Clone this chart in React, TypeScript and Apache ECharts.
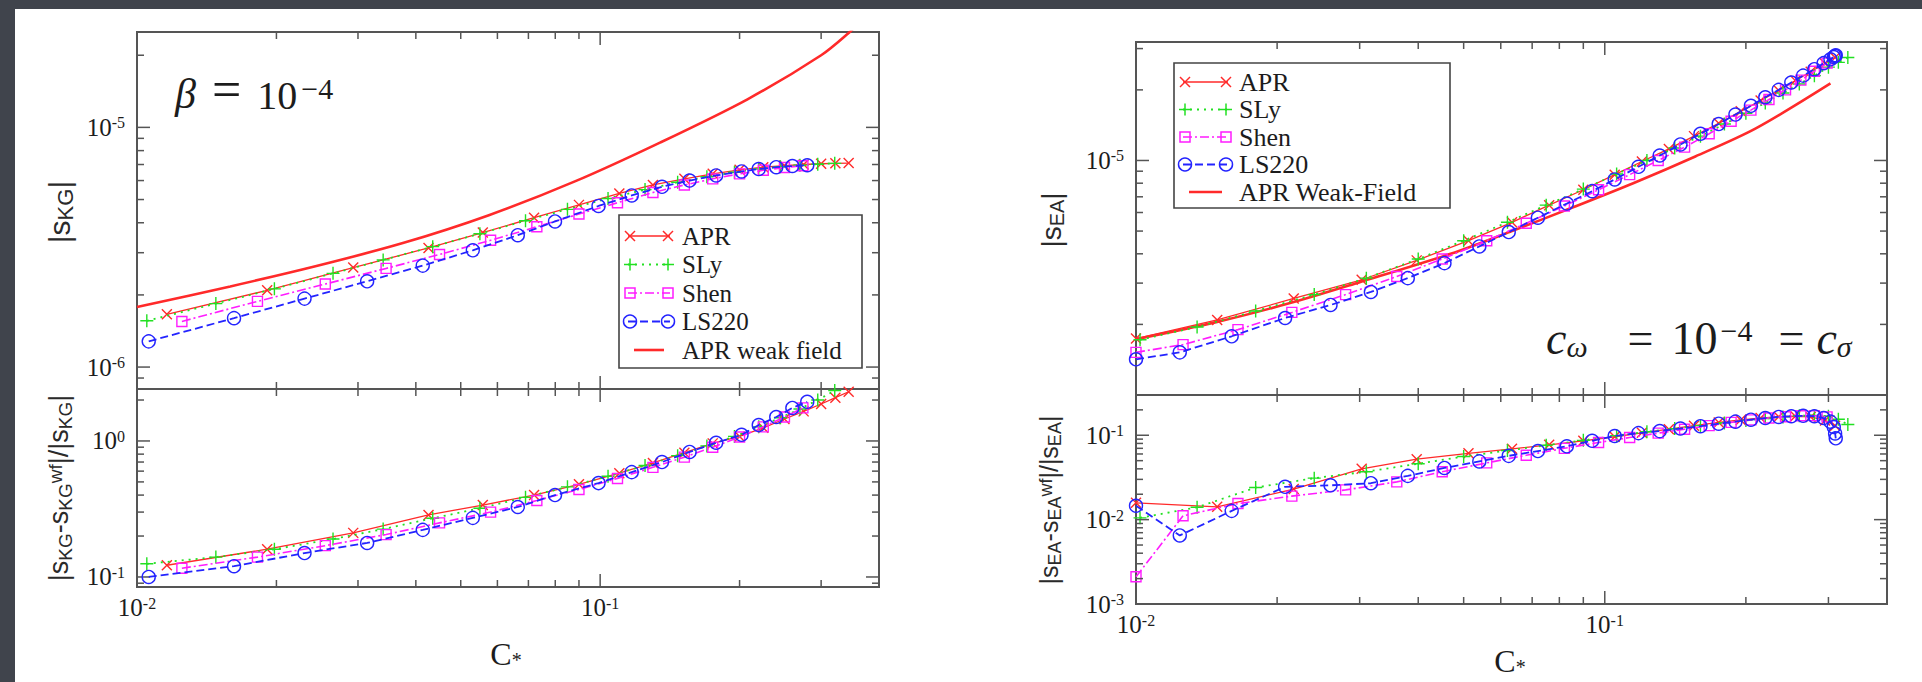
import React, { useEffect, useRef } from 'react';
import * as echarts from 'echarts';

// ---------------- axis ranges / ticks ----------------
const X_RANGE = [0.01, 0.4];
const Y_RANGE_KG_TOP = [8.1e-7, 2.5e-5];
const Y_RANGE_KG_BOT = [0.0844, 2.41];
const Y_RANGE_EA_TOP = [1e-6, 3.2e-5];
const Y_RANGE_EA_BOT = [1e-3, 0.3];

const X_LABEL_EXP = [-2, -1];
const Y_LABEL_EXP_KG_TOP = [-6, -5];
const Y_LABEL_EXP_KG_BOT = [-1, 0];
const Y_LABEL_EXP_EA_TOP = [-5];
const Y_LABEL_EXP_EA_BOT = [-3, -2, -1];

const X_TICKS_MAJOR = [0.1];
const X_TICKS_MINOR = [0.02, 0.03, 0.04, 0.05, 0.06, 0.07, 0.08, 0.09, 0.2, 0.3];
const Y_TICKS_KG_TOP_MAJOR = [1e-6, 1e-5];
const Y_TICKS_KG_TOP_MINOR = [9e-7, 2e-6, 3e-6, 4e-6, 5e-6, 6e-6, 7e-6, 8e-6, 9e-6, 2e-5];
const Y_TICKS_KG_BOT_MAJOR = [0.1, 1];
const Y_TICKS_KG_BOT_MINOR = [0.09, 0.2, 0.3, 0.4, 0.5, 0.6, 0.7, 0.8, 0.9, 2];
const Y_TICKS_EA_TOP_MAJOR = [1e-5];
const Y_TICKS_EA_TOP_MINOR = [2e-6, 3e-6, 4e-6, 5e-6, 6e-6, 7e-6, 8e-6, 9e-6, 2e-5, 3e-5];
const Y_TICKS_EA_BOT_MAJOR = [0.01, 0.1];
const Y_TICKS_EA_BOT_MINOR = [0.002, 0.003, 0.004, 0.005, 0.006, 0.007, 0.008, 0.009, 0.02, 0.03, 0.04, 0.05, 0.06, 0.07, 0.08, 0.09, 0.2];

const EOS_NAMES = ['APR', 'SLy', 'Shen', 'LS220'];
const LEGEND_KG = ['APR', 'SLy', 'Shen', 'LS220', 'APR weak field'];
const LEGEND_EA = ['APR', 'SLy', 'Shen', 'LS220', 'APR Weak-Field'];

// ---------------- left panel (KG, beta = 1e-4) ----------------
const KG_C_APR = [0.0116, 0.0191, 0.0293, 0.0426, 0.0558, 0.072, 0.09, 0.11, 0.13, 0.152, 0.175, 0.2, 0.225, 0.25, 0.275, 0.3, 0.322, 0.344];
const KG_TOP_APR = [1.66e-6, 2.09e-6, 2.6e-6, 3.14e-6, 3.64e-6, 4.2e-6, 4.75e-6, 5.3e-6, 5.75e-6, 6.1e-6, 6.4e-6, 6.65e-6, 6.82e-6, 6.93e-6, 7.0e-6, 7.05e-6, 7.08e-6, 7.1e-6];
const KG_BOT_APR = [0.122, 0.16, 0.211, 0.286, 0.338, 0.4, 0.48, 0.58, 0.69, 0.82, 0.96, 1.08, 1.25, 1.45, 1.65, 1.87, 2.08, 2.3];

const KG_C_SLY = [0.0105, 0.0148, 0.0198, 0.0265, 0.034, 0.0435, 0.055, 0.069, 0.085, 0.104, 0.125, 0.147, 0.17, 0.195, 0.22, 0.245, 0.27, 0.295, 0.321];
const KG_TOP_SLY = [1.56e-6, 1.84e-6, 2.12e-6, 2.46e-6, 2.8e-6, 3.18e-6, 3.6e-6, 4.08e-6, 4.55e-6, 5.05e-6, 5.5e-6, 5.9e-6, 6.22e-6, 6.5e-6, 6.7e-6, 6.85e-6, 6.95e-6, 7.02e-6, 7.08e-6];
const KG_BOT_SLY = [0.125, 0.14, 0.16, 0.19, 0.225, 0.27, 0.32, 0.385, 0.46, 0.55, 0.66, 0.78, 0.92, 1.08, 1.27, 1.48, 1.72, 2.0, 2.35];

const KG_C_SHEN = [0.0125, 0.0182, 0.0255, 0.0345, 0.045, 0.058, 0.073, 0.09, 0.109, 0.13, 0.152, 0.175, 0.2, 0.225, 0.25, 0.274];
const KG_TOP_SHEN = [1.55e-6, 1.88e-6, 2.22e-6, 2.58e-6, 2.95e-6, 3.38e-6, 3.85e-6, 4.35e-6, 4.85e-6, 5.35e-6, 5.75e-6, 6.1e-6, 6.4e-6, 6.62e-6, 6.8e-6, 6.92e-6];
const KG_BOT_SHEN = [0.116, 0.14, 0.17, 0.205, 0.25, 0.3, 0.365, 0.44, 0.53, 0.64, 0.76, 0.9, 1.07, 1.27, 1.5, 1.75];

const KG_C_LS220 = [0.0106, 0.0162, 0.023, 0.0314, 0.0414, 0.0531, 0.0664, 0.0799, 0.0992, 0.117, 0.136, 0.156, 0.178, 0.202, 0.22, 0.24, 0.26, 0.28];
const KG_TOP_LS220 = [1.28e-6, 1.6e-6, 1.93e-6, 2.28e-6, 2.65e-6, 3.07e-6, 3.55e-6, 4.05e-6, 4.7e-6, 5.2e-6, 5.65e-6, 6.0e-6, 6.3e-6, 6.55e-6, 6.7e-6, 6.82e-6, 6.9e-6, 6.95e-6];
const KG_BOT_LS220 = [0.1, 0.12, 0.15, 0.178, 0.222, 0.272, 0.327, 0.4, 0.49, 0.59, 0.7, 0.83, 0.97, 1.11, 1.31, 1.5, 1.75, 1.94];

const KG_WF_C = [0.01, 0.0159, 0.0244, 0.0375, 0.0575, 0.0882, 0.135, 0.208, 0.3, 0.345, 0.36];
const KG_WF_TOP = [1.78e-6, 2.17e-6, 2.64e-6, 3.29e-6, 4.3e-6, 5.95e-6, 8.66e-6, 1.31e-5, 2.0e-5, 2.49e-5, 2.7e-5];

// ---------------- right panel (EA, c_omega = 1e-4 = c_sigma) ----------------
const EA_C_APR = [0.01, 0.0149, 0.0217, 0.0303, 0.0397, 0.0512, 0.0634, 0.0761, 0.09, 0.105, 0.12, 0.137, 0.155, 0.175, 0.195, 0.215, 0.235, 0.255, 0.275, 0.295, 0.31];
const EA_TOP_APR = [1.74e-6, 2.09e-6, 2.58e-6, 3.1e-6, 3.75e-6, 4.55e-6, 5.45e-6, 6.45e-6, 7.5e-6, 8.7e-6, 9.9e-6, 1.12e-5, 1.27e-5, 1.44e-5, 1.62e-5, 1.8e-5, 1.99e-5, 2.19e-5, 2.39e-5, 2.59e-5, 2.75e-5];
const EA_BOT_APR = [0.0158, 0.0142, 0.023, 0.04, 0.052, 0.061, 0.069, 0.077, 0.086, 0.096, 0.107, 0.118, 0.13, 0.142, 0.152, 0.16, 0.166, 0.168, 0.165, 0.15, 0.13];

const EA_C_SLY = [0.0102, 0.0135, 0.018, 0.024, 0.031, 0.04, 0.05, 0.062, 0.075, 0.09, 0.106, 0.123, 0.141, 0.16, 0.18, 0.2, 0.22, 0.24, 0.26, 0.28, 0.3, 0.315, 0.33];
const EA_TOP_SLY = [1.72e-6, 1.95e-6, 2.28e-6, 2.68e-6, 3.15e-6, 3.8e-6, 4.55e-6, 5.45e-6, 6.45e-6, 7.55e-6, 8.75e-6, 1.0e-5, 1.13e-5, 1.27e-5, 1.43e-5, 1.59e-5, 1.76e-5, 1.94e-5, 2.12e-5, 2.3e-5, 2.5e-5, 2.62e-5, 2.75e-5];
const EA_BOT_SLY = [0.0105, 0.014, 0.024, 0.031, 0.037, 0.046, 0.056, 0.066, 0.076, 0.087, 0.099, 0.11, 0.12, 0.13, 0.14, 0.15, 0.158, 0.165, 0.17, 0.172, 0.168, 0.155, 0.134];

const EA_C_SHEN = [0.01, 0.0126, 0.0165, 0.0215, 0.028, 0.036, 0.045, 0.056, 0.068, 0.082, 0.097, 0.113, 0.13, 0.148, 0.167, 0.186, 0.205, 0.224, 0.243, 0.262, 0.28, 0.298];
const EA_TOP_SHEN = [1.52e-6, 1.64e-6, 1.9e-6, 2.25e-6, 2.68e-6, 3.2e-6, 3.8e-6, 4.55e-6, 5.4e-6, 6.4e-6, 7.5e-6, 8.7e-6, 1.0e-5, 1.14e-5, 1.3e-5, 1.47e-5, 1.64e-5, 1.82e-5, 2.0e-5, 2.2e-5, 2.4e-5, 2.6e-5];
const EA_BOT_SHEN = [0.0021, 0.0111, 0.0155, 0.019, 0.0225, 0.028, 0.037, 0.047, 0.058, 0.07, 0.082, 0.094, 0.106, 0.118, 0.13, 0.142, 0.152, 0.16, 0.166, 0.17, 0.17, 0.165];

const EA_C_LS220 = [0.01, 0.0124, 0.016, 0.0208, 0.026, 0.0317, 0.038, 0.0455, 0.054, 0.0624, 0.072, 0.083, 0.094, 0.105, 0.118, 0.131, 0.145, 0.16, 0.175, 0.19, 0.205, 0.22, 0.235, 0.25, 0.265, 0.28, 0.293, 0.303, 0.308, 0.31, 0.311];
const EA_TOP_LS220 = [1.42e-6, 1.52e-6, 1.78e-6, 2.13e-6, 2.42e-6, 2.75e-6, 3.15e-6, 3.65e-6, 4.3e-6, 4.95e-6, 5.7e-6, 6.55e-6, 7.4e-6, 8.3e-6, 9.4e-6, 1.05e-5, 1.17e-5, 1.3e-5, 1.43e-5, 1.57e-5, 1.71e-5, 1.86e-5, 2.0e-5, 2.15e-5, 2.3e-5, 2.45e-5, 2.6e-5, 2.7e-5, 2.76e-5, 2.79e-5, 2.81e-5];
const EA_BOT_LS220 = [0.0146, 0.0065, 0.0127, 0.0245, 0.0255, 0.027, 0.033, 0.041, 0.049, 0.057, 0.065, 0.074, 0.086, 0.098, 0.106, 0.112, 0.12, 0.128, 0.137, 0.145, 0.153, 0.16, 0.165, 0.168, 0.17, 0.168, 0.16, 0.145, 0.125, 0.105, 0.092];

const EA_WF_C = [0.01, 0.0149, 0.0217, 0.0299, 0.0469, 0.0634, 0.0853, 0.115, 0.156, 0.21, 0.303];
const EA_WF_TOP = [1.73e-6, 2.05e-6, 2.49e-6, 3.02e-6, 4.0e-6, 5.0e-6, 6.3e-6, 8.0e-6, 1.04e-5, 1.37e-5, 2.13e-5];

// ---------------- styling ----------------
const SERIF = '"Liberation Serif", "Times New Roman", serif';
const SANS = '"Liberation Sans", Arial, sans-serif';
const TXT = '#1c1c1c';
const FRAME = '#555555';
const RED = '#ff2a2a';
const GREEN = '#22e022';
const MAGENTA = '#ff1cff';
const BLUE = '#2424ff';

const STY: any = {
  APR: { color: RED, symbol: 'path://M0,0L10,10M0,10L10,0', size: 10, dash: 'solid', width: 1.3, fill: RED, kind: 'x' },
  SLy: { color: GREEN, symbol: 'path://M5,0L5,10M0,5L10,5', size: 13, dash: [2, 5], width: 1.8, fill: GREEN, kind: '+' },
  Shen: { color: MAGENTA, symbol: 'rect', size: 10, dash: [9, 3, 2, 3], width: 1.6, fill: 'rgba(0,0,0,0)', kind: 'rect' },
  LS220: { color: BLUE, symbol: 'circle', size: 13, dash: [8, 4], width: 1.8, fill: 'rgba(0,0,0,0)', kind: 'circle' },
};

const zip = (xs: number[], ys: number[]) => xs.map((x, i) => [x, ys[i]]);

const labelRich = {
  b: { fontFamily: SERIF, fontSize: 25, color: TXT, lineHeight: 25, verticalAlign: 'bottom' },
  s: { fontFamily: SERIF, fontSize: 16, color: TXT, lineHeight: 16, verticalAlign: 'top', padding: [0, 0, 20, 0] },
};

function powLabel(show: number[]) {
  return (v: number) => {
    const l = Math.log10(v);
    const e = Math.round(l);
    if (Math.abs(l - e) > 1e-6 || show.indexOf(e) < 0) return '';
    return `{b|10}{s|${e}}`;
  };
}

const renderTicks = (params: any, api: any) => {
  const cs = params.coordSys;
  const isY = api.value(2) === 1;
  const len = api.value(3) === 1 ? 13 : 7;
  const p = api.coord([api.value(0), api.value(1)]);
  const style = { stroke: FRAME, lineWidth: 1.5 };
  if (!isY) {
    return {
      type: 'group',
      children: [
        { type: 'line', shape: { x1: p[0], y1: cs.y + cs.height, x2: p[0], y2: cs.y + cs.height - len }, style },
        { type: 'line', shape: { x1: p[0], y1: cs.y, x2: p[0], y2: cs.y + len }, style },
      ],
    };
  }
  return {
    type: 'group',
    children: [
      { type: 'line', shape: { x1: cs.x, y1: p[1], x2: cs.x + len, y2: p[1] }, style },
      { type: 'line', shape: { x1: cs.x + cs.width, y1: p[1], x2: cs.x + cs.width - len, y2: p[1] }, style },
    ],
  };
};

function tickSeries(g: number, yMinor: number[], yMajor: number[], yMin: number) {
  const data = [
    ...X_TICKS_MINOR.map((v) => [v, yMin, 0, 0]),
    ...X_TICKS_MAJOR.map((v) => [v, yMin, 0, 1]),
    ...yMinor.map((v) => [X_RANGE[0], v, 1, 0]),
    ...yMajor.map((v) => [X_RANGE[0], v, 1, 1]),
  ];
  return {
    type: 'custom',
    xAxisIndex: g,
    yAxisIndex: g,
    data,
    encode: { x: 0, y: 1 },
    silent: true,
    z: 6,
    renderItem: renderTicks,
  };
}

function eosSeries(name: string, data: number[][], g: number, idx: number) {
  const s = STY[name];
  return {
    type: 'line',
    name,
    xAxisIndex: g,
    yAxisIndex: g,
    data,
    symbol: s.symbol,
    symbolSize: s.size,
    showSymbol: true,
    showAllSymbol: true,
    lineStyle: { color: s.color, width: s.width, type: s.dash },
    itemStyle: { color: s.fill, borderColor: s.color, borderWidth: 1.4 },
    emphasis: { disabled: true },
    silent: true,
    z: 3 + idx,
  };
}

function wfSeries(name: string, data: number[][], g: number) {
  return {
    type: 'line',
    name,
    xAxisIndex: g,
    yAxisIndex: g,
    data,
    symbol: 'none',
    smooth: 0.3,
    lineStyle: { color: RED, width: 2.6 },
    emphasis: { disabled: true },
    silent: true,
    z: 2,
  };
}

function markerEls(kind: string, cx: number, cy: number, color: string) {
  const st = { stroke: color, lineWidth: 1.5, fill: 'rgba(0,0,0,0)' };
  if (kind === 'x') {
    const h = 5;
    return [
      { type: 'line', z: 61, shape: { x1: cx - h, y1: cy - h, x2: cx + h, y2: cy + h }, style: st },
      { type: 'line', z: 61, shape: { x1: cx - h, y1: cy + h, x2: cx + h, y2: cy - h }, style: st },
    ];
  }
  if (kind === '+') {
    const h = 6;
    return [
      { type: 'line', z: 61, shape: { x1: cx - h, y1: cy, x2: cx + h, y2: cy }, style: st },
      { type: 'line', z: 61, shape: { x1: cx, y1: cy - h, x2: cx, y2: cy + h }, style: st },
    ];
  }
  if (kind === 'rect') {
    return [{ type: 'rect', z: 61, shape: { x: cx - 5, y: cy - 5, width: 10, height: 10 }, style: st }];
  }
  return [{ type: 'circle', z: 61, shape: { cx, cy, r: 6.5 }, style: st }];
}

function legendEls(labels: string[], box: number[], y0: number, step: number, x1: number, x2: number, tx: number, fs: number) {
  const els: any[] = [
    {
      type: 'rect',
      z: 60,
      shape: { x: box[0], y: box[1], width: box[2], height: box[3] },
      style: { fill: '#ffffff', stroke: '#444', lineWidth: 1.6 },
    },
  ];
  labels.forEach((lab, i) => {
    const y = y0 + i * step;
    const eos = EOS_NAMES[i];
    if (eos) {
      const s = STY[eos];
      els.push({ type: 'line', z: 61, shape: { x1, y1: y, x2, y2: y }, style: { stroke: s.color, lineWidth: s.width, lineDash: s.dash === 'solid' ? null : s.dash } });
      els.push(...markerEls(s.kind, x1 + 2, y, s.color));
      els.push(...markerEls(s.kind, x2 - 2, y, s.color));
    } else {
      els.push({ type: 'line', z: 61, shape: { x1: x1 + 6, y1: y, x2: x2 - 6, y2: y }, style: { stroke: RED, lineWidth: 2.6 } });
    }
    els.push({
      type: 'text',
      z: 62,
      x: tx,
      y,
      style: { text: lab, fontFamily: SERIF, fontSize: fs, fill: TXT, align: 'left', verticalAlign: 'middle', textAlign: 'left', textVerticalAlign: 'middle' },
    });
  });
  return els;
}

function yTitle(x: number, y: number, text: string, fs: number, sub: number) {
  return {
    type: 'text',
    z: 60,
    x,
    y,
    rotation: Math.PI / 2,
    style: {
      text,
      fontFamily: SANS,
      fontSize: fs,
      fill: '#2a2a2a',
      align: 'center',
      verticalAlign: 'middle',
      textAlign: 'center',
      textVerticalAlign: 'middle',
      rich: {
        n: { fontFamily: SANS, fontSize: fs, lineHeight: fs + 2, fill: '#2a2a2a', verticalAlign: 'top' },
        sub: { fontFamily: SANS, fontSize: sub, lineHeight: sub, fill: '#2a2a2a', verticalAlign: 'bottom', padding: [fs * 0.5, 0, 0, 0] },
        sup: { fontFamily: SANS, fontSize: sub, lineHeight: sub, fill: '#2a2a2a', verticalAlign: 'top' },
      },
    },
  };
}

function xTitle(x: number, y: number) {
  return {
    type: 'text',
    z: 60,
    x,
    y,
    style: {
      text: '{c|C}{s|*}',
      fill: TXT,
      align: 'center',
      verticalAlign: 'middle',
      textAlign: 'center',
      textVerticalAlign: 'middle',
      rich: {
        c: { fontFamily: SERIF, fontSize: 32, lineHeight: 32, fill: TXT, verticalAlign: 'top' },
        s: { fontFamily: SERIF, fontSize: 20, lineHeight: 20, fill: TXT, verticalAlign: 'bottom', padding: [20, 0, 0, 0] },
      },
    },
  };
}

const betaRich = {
  i: { fontFamily: SERIF, fontStyle: 'italic', fontSize: 42, lineHeight: 42, fill: TXT, verticalAlign: 'bottom' },
  eq: { fontFamily: SERIF, fontSize: 52, lineHeight: 42, fill: TXT, verticalAlign: 'bottom', padding: [0, 16, 0, 16] },
  n: { fontFamily: SERIF, fontSize: 40, lineHeight: 40, fill: TXT, verticalAlign: 'bottom' },
  p: { fontFamily: SERIF, fontSize: 30, lineHeight: 30, fill: TXT, verticalAlign: 'top', padding: [0, 0, 16, 4] },
};

const cRich = {
  i: { fontFamily: SERIF, fontStyle: 'italic', fontSize: 46, lineHeight: 46, fill: TXT, verticalAlign: 'bottom' },
  sb: { fontFamily: SERIF, fontStyle: 'italic', fontSize: 30, lineHeight: 30, fill: TXT, verticalAlign: 'bottom' },
  e1: { fontFamily: SERIF, fontSize: 46, lineHeight: 44, fill: TXT, verticalAlign: 'bottom', padding: [0, 18, 0, 40] },
  e2: { fontFamily: SERIF, fontSize: 46, lineHeight: 44, fill: TXT, verticalAlign: 'bottom', padding: [0, 12, 0, 26] },
  n: { fontFamily: SERIF, fontSize: 46, lineHeight: 44, fill: TXT, verticalAlign: 'bottom' },
  p: { fontFamily: SERIF, fontSize: 30, lineHeight: 28, fill: TXT, verticalAlign: 'top', padding: [0, 0, 22, 3] },
};

function buildOption() {
  const grids = [
    { left: 137, top: 32, width: 742, height: 357 },
    { left: 137, top: 389, width: 742, height: 198 },
    { left: 1136, top: 42, width: 751, height: 353 },
    { left: 1136, top: 395, width: 751, height: 209 },
  ];
  const yRanges = [Y_RANGE_KG_TOP, Y_RANGE_KG_BOT, Y_RANGE_EA_TOP, Y_RANGE_EA_BOT];
  const yLabelExps = [Y_LABEL_EXP_KG_TOP, Y_LABEL_EXP_KG_BOT, Y_LABEL_EXP_EA_TOP, Y_LABEL_EXP_EA_BOT];

  const KG: any = {
    APR: [KG_C_APR, KG_TOP_APR, KG_BOT_APR],
    SLy: [KG_C_SLY, KG_TOP_SLY, KG_BOT_SLY],
    Shen: [KG_C_SHEN, KG_TOP_SHEN, KG_BOT_SHEN],
    LS220: [KG_C_LS220, KG_TOP_LS220, KG_BOT_LS220],
  };
  const EA: any = {
    APR: [EA_C_APR, EA_TOP_APR, EA_BOT_APR],
    SLy: [EA_C_SLY, EA_TOP_SLY, EA_BOT_SLY],
    Shen: [EA_C_SHEN, EA_TOP_SHEN, EA_BOT_SHEN],
    LS220: [EA_C_LS220, EA_TOP_LS220, EA_BOT_LS220],
  };

  const series: any[] = [
    wfSeries('APR weak field', zip(KG_WF_C, KG_WF_TOP), 0),
    wfSeries('APR Weak-Field', zip(EA_WF_C, EA_WF_TOP), 2),
  ];
  EOS_NAMES.forEach((n, i) => {
    series.push(eosSeries(n, zip(KG[n][0], KG[n][1]), 0, i));
    series.push(eosSeries(n, zip(KG[n][0], KG[n][2]), 1, i));
    series.push(eosSeries(n, zip(EA[n][0], EA[n][1]), 2, i));
    series.push(eosSeries(n, zip(EA[n][0], EA[n][2]), 3, i));
  });
  series.push(tickSeries(0, Y_TICKS_KG_TOP_MINOR, Y_TICKS_KG_TOP_MAJOR, Y_RANGE_KG_TOP[0]));
  series.push(tickSeries(1, Y_TICKS_KG_BOT_MINOR, Y_TICKS_KG_BOT_MAJOR, Y_RANGE_KG_BOT[0]));
  series.push(tickSeries(2, Y_TICKS_EA_TOP_MINOR, Y_TICKS_EA_TOP_MAJOR, Y_RANGE_EA_TOP[0]));
  series.push(tickSeries(3, Y_TICKS_EA_BOT_MINOR, Y_TICKS_EA_BOT_MAJOR, Y_RANGE_EA_BOT[0]));

  const graphicEls: any[] = [
    { type: 'rect', z: -10, silent: true, shape: { x: 15, y: 9, width: 1907, height: 673 }, style: { fill: '#ffffff' } },
    {
      type: 'text', z: 60, x: 175, y: 94,
      style: { text: '{i|β}{eq|=}{n|10}{p|−4}', fill: TXT, align: 'left', verticalAlign: 'middle', textAlign: 'left', textVerticalAlign: 'middle', rich: betaRich },
    },
    {
      type: 'text', z: 60, x: 1546, y: 338,
      style: { text: '{i|c}{sb|ω}{e1|=}{n|10}{p|−4}{e2|=}{i|c}{sb|σ}', fill: TXT, align: 'left', verticalAlign: 'middle', textAlign: 'left', textVerticalAlign: 'middle', rich: cRich },
    },
    yTitle(60, 212, '{n||s}{sub|KG}{n||}', 30, 22),
    yTitle(60, 488, '{n||s}{sub|KG}{n|-s}{sub|KG}{sup|wf}{n||/|s}{sub|KG}{n||}', 27, 19),
    yTitle(1052, 220, '{n||s}{sub|EA}{n||}', 28, 20),
    yTitle(1050, 500, '{n||s}{sub|EA}{n|-s}{sub|EA}{sup|wf}{n||/|s}{sub|EA}{n||}', 25, 18),
    xTitle(506, 654),
    xTitle(1510, 661),
    ...legendEls(LEGEND_KG, [619, 215, 243, 153], 236, 28.5, 628, 670, 682, 25),
    ...legendEls(LEGEND_EA, [1174, 63, 276, 145], 82, 27.5, 1183, 1228, 1239, 26),
  ];

  return {
    animation: false,
    backgroundColor: '#40444c',
    grid: grids.map((g) => ({
      ...g,
      show: true,
      borderColor: FRAME,
      borderWidth: 2,
      backgroundColor: 'rgba(0,0,0,0)',
      containLabel: false,
      outerBoundsMode: 'none',
    })),
    xAxis: grids.map((_, i) => ({
      type: 'log',
      logBase: 10,
      gridIndex: i,
      min: X_RANGE[0],
      max: X_RANGE[1],
      axisLine: { show: false },
      axisTick: { show: false },
      minorTick: { show: false },
      splitLine: { show: false },
      axisLabel: {
        show: i === 1 || i === 3,
        formatter: powLabel(X_LABEL_EXP),
        rich: labelRich,
        margin: 8,
        showMinLabel: true,
        showMaxLabel: true,
      },
    })),
    yAxis: grids.map((_, i) => ({
      type: 'log',
      logBase: 10,
      gridIndex: i,
      min: yRanges[i][0],
      max: yRanges[i][1],
      axisLine: { show: false },
      axisTick: { show: false },
      minorTick: { show: false },
      splitLine: { show: false },
      axisLabel: {
        show: true,
        formatter: powLabel(yLabelExps[i]),
        rich: labelRich,
        margin: 12,
        showMinLabel: true,
        showMaxLabel: true,
      },
    })),
    series,
    graphic: { elements: graphicEls },
  };
}

export default function App() {
  const ref = useRef<HTMLDivElement>(null);
  useEffect(() => {
    if (!ref.current) return;
    const chart = echarts.init(ref.current, undefined, { renderer: 'svg', width: 1922, height: 682 });
    chart.setOption(buildOption() as any);
    return () => {
      chart.dispose();
    };
  }, []);
  return <div ref={ref} style={{ position: 'absolute', left: 0, top: 0, width: 1922, height: 682 }} />;
}
